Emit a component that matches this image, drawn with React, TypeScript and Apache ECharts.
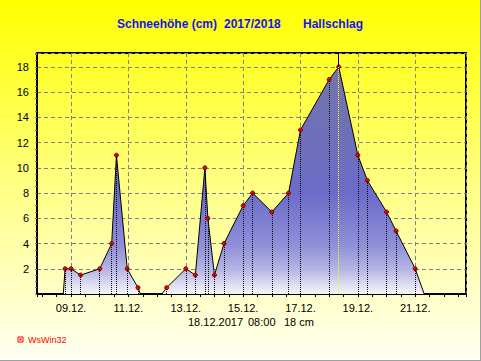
import React, { useEffect, useRef } from "react";
import * as echarts from "echarts";

// ---- data ----
const times: string[] = [
  "2017-12-08 17:30", "2017-12-08 19:00", "2017-12-09 00:00", "2017-12-09 08:00",
  "2017-12-10 00:00", "2017-12-10 10:00", "2017-12-10 14:00", "2017-12-10 23:00",
  "2017-12-11 08:00", "2017-12-11 10:00", "2017-12-12 04:00", "2017-12-12 08:00",
  "2017-12-13 00:00", "2017-12-13 08:00", "2017-12-13 16:00", "2017-12-13 18:30",
  "2017-12-14 00:00", "2017-12-14 08:00", "2017-12-15 00:00", "2017-12-15 08:00",
  "2017-12-16 00:00", "2017-12-16 14:00", "2017-12-17 00:00", "2017-12-18 00:00",
  "2017-12-18 08:00", "2017-12-19 00:00", "2017-12-19 08:00", "2017-12-20 00:00",
  "2017-12-20 08:00", "2017-12-21 00:00", "2017-12-21 07:30",
];
const snowDepth: number[] = [
  0, 2, 2, 1.5,
  2, 4, 11, 2,
  0.5, 0, 0, 0.5,
  2, 1.5, 10, 6,
  1.5, 4, 7, 8,
  6.5, 8, 13, 17,
  18, 11, 9, 6.5,
  5, 2, 0,
];
const rangeStart = "2017-12-07 19:30";
const rangeEnd = "2017-12-22 18:30";
const nowTime = "2017-12-18 08:00";
const nowValue = 18;
const yTop = 19.1;
const titleParts = ["Schneehöhe (cm)", "2017/2018", "Hallschlag"];
const footerParts = ["18.12.2017", "08:00", "18 cm"];
const brand = "WsWin32";

// ---- helpers ----
const DAY = 86400000;
const BASE = Date.UTC(2017, 11, 9);
function toDay(s: string): number {
  const [d, t] = s.split(" ");
  const [Y, M, D] = d.split("-").map(Number);
  const [h, m] = t.split(":").map(Number);
  return (Date.UTC(Y, M - 1, D, h, m) - BASE) / DAY;
}
const pad = (n: number) => (n < 10 ? "0" + n : "" + n);

export default function App() {
  const ref = useRef<HTMLDivElement>(null);
  useEffect(() => {
    if (!ref.current) return;
    const chart = echarts.init(ref.current, null, { renderer: "svg" });
    const xMin = toDay(rangeStart);
    const xMax = toDay(rangeEnd);
    const nowX = toDay(nowTime);
    const pts = times.map((t, i) => [toDay(t), snowDepth[i]] as [number, number]);

    const drops: any[] = pts
      .filter(([x, v]) => v > 0 && Math.abs(x - nowX) > 1e-6)
      .map(([x, v]) => [{ coord: [x, 0] }, { coord: [x, v] }]);
    drops.push([
      { coord: [nowX, 0], lineStyle: { color: "#ffff00", type: [1, 1], width: 1 } },
      { coord: [nowX, nowValue] },
    ]);
    drops.push([
      { coord: [nowX, nowValue], lineStyle: { color: "#000", type: "solid", width: 1 } },
      { coord: [nowX, yTop] },
    ]);

    const font = "Arial, 'Liberation Sans', sans-serif";
    const option: any = {
      animation: false,
      grid: {
        left: 37, right: 14, top: 53, bottom: 66,
        show: true, borderColor: "#000", borderWidth: 2, backgroundColor: "transparent",
      },
      xAxis: [
        {
          type: "value", min: xMin, max: xMax, minInterval: 2, maxInterval: 2, splitNumber: 7,
          axisLine: { show: true, onZero: false, lineStyle: { color: "#000", width: 2 } },
          axisTick: { show: false },
          axisLabel: {
            color: "#000", fontSize: 11, fontFamily: font, margin: 8,
            showMinLabel: false, showMaxLabel: false,
            formatter: (v: number) => {
              const r = Math.round(v);
              if (Math.abs(v - r) > 1e-6) return "";
              const d = new Date(BASE + r * DAY);
              return pad(d.getUTCDate()) + "." + pad(d.getUTCMonth() + 1) + ".";
            },
          },
          splitLine: { show: true, lineStyle: { color: "#80808c", type: [4, 3], width: 1 } },
        },
        {
          type: "value", min: xMin, max: xMax, minInterval: 0.5, maxInterval: 0.5, splitNumber: 30,
          position: "bottom",
          axisLine: { show: false, onZero: false },
          axisTick: { show: true, length: 3, lineStyle: { color: "#000", width: 1 } },
          axisLabel: { show: false },
          splitLine: { show: false },
        },
      ],
      yAxis: {
        type: "value", min: 0, max: yTop, interval: 2,
        axisLine: { show: true, onZero: false, lineStyle: { color: "#000", width: 2 } },
        axisTick: { show: true, length: 2, lineStyle: { color: "#808080" } },
        minorTick: { show: true, splitNumber: 4, length: 2, lineStyle: { color: "#808080" } },
        axisLabel: {
          color: "#000", fontSize: 11, fontFamily: font, margin: 8,
          showMinLabel: false, showMaxLabel: false,
          formatter: (v: number) => (Math.abs(v - Math.round(v)) < 1e-6 ? String(v) : ""),
        },
        splitLine: { show: true, lineStyle: { color: "#80808c", type: [4, 3], width: 1 } },
      },
      series: [
        {
          type: "line",
          xAxisIndex: 0,
          data: pts.map(([x, v]) => ({ value: [x, v], symbol: v > 0 ? "circle" : "none" })),
          symbolSize: 4,
          showSymbol: true,
          showAllSymbol: true,
          lineStyle: { color: "#000", width: 1 },
          itemStyle: { color: "#ff0000", borderColor: "#700000", borderWidth: 1 },
          areaStyle: {
            origin: "start",
            opacity: 1,
            color: new echarts.graphic.LinearGradient(0, 0, 0, 1, [
              { offset: 0, color: "#7474aa" },
              { offset: 0.39, color: "#6e6ebe" },
              { offset: 0.56, color: "#6c6cca" },
              { offset: 0.78, color: "#8e8ed8" },
              { offset: 0.89, color: "#b4b4e4" },
              { offset: 1, color: "#f6f6f6" },
            ]),
          },
          markLine: {
            silent: true,
            animation: false,
            symbol: ["none", "none"],
            label: { show: false },
            lineStyle: { color: "#000", type: [1, 1], width: 1 },
            data: drops,
          },
          z: 3,
        },
      ],
      graphic: [
        { type: "text", x: 117, y: 24, style: { text: titleParts[0], font: "bold 12px " + font, fill: "#1414ee", align: "left", verticalAlign: "middle" } },
        { type: "text", x: 224, y: 24, style: { text: titleParts[1], font: "bold 12px " + font, fill: "#1414ee", align: "left", verticalAlign: "middle" } },
        { type: "text", x: 303, y: 24, style: { text: titleParts[2], font: "bold 12px " + font, fill: "#1414ee", align: "left", verticalAlign: "middle" } },
        { type: "text", x: 188, y: 322, style: { text: footerParts[0], font: "11px " + font, fill: "#000", align: "left", verticalAlign: "middle" } },
        { type: "text", x: 248, y: 322, style: { text: footerParts[1], font: "11px " + font, fill: "#000", align: "left", verticalAlign: "middle" } },
        { type: "text", x: 284, y: 322, style: { text: footerParts[2], font: "11px " + font, fill: "#000", align: "left", verticalAlign: "middle" } },
        { type: "rect", shape: { x: 18, y: 337, width: 5, height: 5 }, style: { fill: "none", stroke: "#ff0000", lineWidth: 1 } },
        { type: "rect", shape: { x: 19.5, y: 338.5, width: 2, height: 2 }, style: { fill: "#ff0000" } },
        { type: "text", x: 28, y: 339.5, style: { text: brand, font: "9px " + font, fill: "#ff0000", align: "left", verticalAlign: "middle" } },
      ],
    };
    chart.setOption(option);
    return () => chart.dispose();
  }, []);

  return (
    <div
      style={{
        position: "fixed", left: 0, top: 0, width: 481, height: 361, boxSizing: "border-box",
        borderRight: "1px solid #a0a0a0", borderBottom: "1px solid #a0a0a0",
        background: "linear-gradient(to bottom, #ffff00 0%, #ffff30 20%, #ffff80 50%, #ffffb8 75%, #fffff2 100%)",
      }}
    >
      <div ref={ref} style={{ width: 480, height: 360 }} />
    </div>
  );
}
